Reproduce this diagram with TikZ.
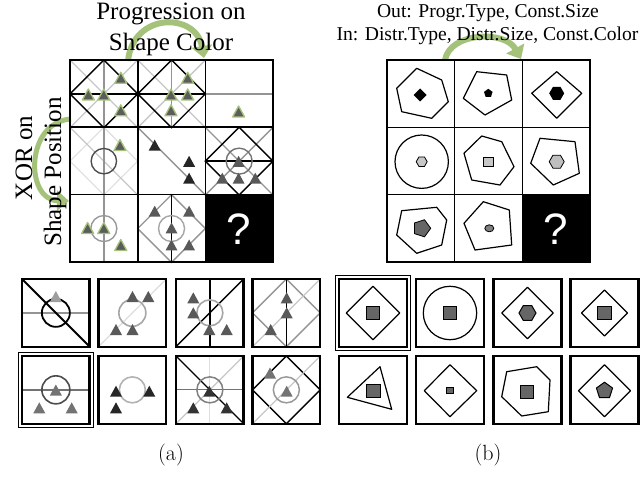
\documentclass[tikz,border=0pt]{standalone}
\usepackage{fontspec}
\newfontfamily\tms{Liberation Serif}
\newfontfamily\qsf{Liberation Sans}
\usetikzlibrary{arrows.meta,calc}
\definecolor{grn}{HTML}{A5C27A}
\definecolor{trif}{HTML}{5C5C5C}
\tikzset{
 bk/.style={draw=black,line width=1.4},
 gy/.style={draw=black!42,line width=1.4},
 lgy/.style={draw=black!22,line width=1.3},
 vlg/.style={draw=black!13,line width=1.2},
 trig/.style={fill=trif,draw=grn,line width=1.3,line join=round},
 trid/.style={fill=black!65},
 trik/.style={fill=black!85},
 tril/.style={fill=black!38},
 shp/.style={draw=black,line width=1.2,line join=round},
 garr/.style={draw=grn,line width=6,-{Triangle[length=12pt,width=20pt]}},
 ansbox/.style={draw=black,line width=2.2},
 ttl/.style={font=\tms\fontsize{25}{31}\selectfont,align=center,inner sep=0pt},
 ttr/.style={font=\tms\fontsize{19.6}{23}\selectfont,inner sep=0pt},
 qm/.style={text=white,font=\qsf\fontsize{44}{44}\selectfont,inner sep=0pt},
 captxt/.style={font=\fontsize{22}{26}\selectfont,inner sep=0pt}
}
\newcommand\Tri[3]{\path[#3] (#1-6,#2+5) -- (#1+6,#2+5) -- (#1,#2-6) -- cycle;}
\newcommand\RP[6]{\path[#6] plot[samples=#4,domain=#5:#5+360] ({#1+#3*cos(\x)},{#2+#3*sin(\x)}) -- cycle;}
\newcommand\Dg[1]{\draw[#1] (0,0)--(67.7,67.7);}
\newcommand\Da[1]{\draw[#1] (0,67.7)--(67.7,0);}
\newcommand\Vl[1]{\draw[#1] (33.85,0)--(33.85,67.7);}
\newcommand\Hl[1]{\draw[#1] (0,33.85)--(67.7,33.85);}
\newcommand\Dm[1]{\draw[#1] (33.85,0)--(67.7,33.85)--(33.85,67.7)--(0,33.85)--cycle;}
\newcommand\Ci[2]{\draw[#2] (33.85,33.85) circle[radius=#1];}
\newcommand\Sq[4]{\path[#4] (#1-#3,#2-#3) rectangle (#1+#3,#2+#3);}
\begin{document}
\begin{tikzpicture}[x=1pt,y=-1pt]
\useasboundingbox (0,0) rectangle (640,497);
\fill[white] (0,0) rectangle (640,497);

% green arrows
\draw[garr] (128,61) .. controls (133,12) and (196,12) .. (204,58);
\draw[garr,line width=5] (71,119) .. controls (25,122) and (25,200) .. (69,201);
\draw[garr] (445,60) .. controls (450,32) and (505,30) .. (521,59);

% titles
\node[ttl] (tl) at (171,29) {Progression on\\Shape Color};
\node[ttl,rotate=90] (xor) at (24,158) {XOR on};
\node[ttl,rotate=90] (shpos) at (55,172) {Shape Position};
\node[ttr] (tout) at (488,13) {Out: Progr.Type, Const.Size};
\node[ttr] (tin) at (487.5,36) {In: Distr.Type, Distr.Size, Const.Color};

% ===== left matrix =====
\begin{scope}[shift={(70,60)}]
\Dg{lgy}\Da{lgy}\Vl{gy}\Hl{bk}\Dm{bk}
\Tri{50.8}{18.3}{trig}\Tri{18.3}{35}{trig}\Tri{33.8}{35}{trig}\Tri{50.8}{50.8}{trig}
\end{scope}
\begin{scope}[shift={(137.7,60)}]
\Dg{lgy}\Da{lgy}\Vl{gy}\Hl{bk}\Dm{bk}
\Tri{50}{18.3}{trig}\Tri{33.3}{35}{trig}\Tri{50}{35}{trig}\Tri{33.3}{50.8}{trig}
\end{scope}
\begin{scope}[shift={(205.3,60)}]
\Hl{gy}
\Tri{33.3}{52}{trig}
\end{scope}
\begin{scope}[shift={(70,127.3)}]
\Dm{vlg}\Dg{lgy}\Vl{gy}\Ci{12.7}{draw=black!70,line width=1.4}
\Tri{50}{18.3}{trig}
\end{scope}
\begin{scope}[shift={(137.7,127.3)}]
\Dg{gy}
\Tri{17}{18.3}{trik}\Tri{51.4}{34.5}{trik}\Tri{51.4}{51.4}{trik}
\end{scope}
\begin{scope}[shift={(205.3,127.3)}]
\Dg{gy}\Da{gy}\Dm{bk}\Hl{bk}\Ci{13}{draw=black!55,line width=1.4}
\Tri{33.3}{34.5}{trid}\Tri{17}{51.4}{trid}\Tri{33.3}{51.4}{trid}\Tri{50}{51.4}{trid}
\end{scope}
\begin{scope}[shift={(70,194.7)}]
\Vl{gy}\Ci{13}{draw=black!40,line width=1.4}
\Tri{17.6}{33.8}{trig}\Tri{33.8}{33.8}{trig}\Tri{50.8}{50.8}{trig}
\end{scope}
\begin{scope}[shift={(137.7,194.7)}]
\Dm{gy}\Vl{bk}\Ci{13}{draw=black!35,line width=1.4}
\Tri{17}{17}{trid}\Tri{51.4}{17}{trid}\Tri{33.8}{33.8}{trid}\Tri{33.8}{50.8}{trid}\Tri{51.4}{50.8}{trid}
\end{scope}
\fill[black] (205.3,194.7) rectangle (273,262);
\node[qm] (q1) at (239.2,229) {?};
\draw[black,line width=1.6] (137.7,60)--(137.7,262) (205.3,60)--(205.3,262) (70,127.3)--(273,127.3) (70,194.7)--(273,194.7);
\draw[black,line width=2] (70,60) rectangle (273,262);

% ===== right matrix =====
\draw[shp] (416.7,68.3)--(441.7,80)--(448.3,101.7)--(431.7,118.3)--(401.7,111.7)--(396.7,88.3)--cycle;
\RP{420}{95}{6.5}{5}{0}{fill=black}
\draw[shp] (476.7,71.7)--(506.7,75)--(511.7,100)--(485,115)--(463.3,98.3)--cycle;
\RP{488.3}{93.3}{4.5}{6}{-90}{fill=black}
\draw[shp] (556.7,71.7)--(581.7,93.3)--(556.7,118.3)--(531.7,93.3)--cycle;
\RP{556.7}{93.3}{7.5}{7}{0}{fill=black}
\draw[shp] (421.7,161.7) circle[radius=26.7];
\RP{421.7}{161.7}{5.5}{7}{0}{fill=black!22,draw=black,line width=0.8}
\draw[shp] (481.7,136)--(501.7,141.7)--(514,166.7)--(500,185)--(471.7,180)--(464,153.3)--cycle;
\Sq{488.3}{161.7}{4.7}{fill=black!22,draw=black,line width=0.8}
\draw[shp] (540,138.3)--(575,141.7)--(579.3,173.3)--(553.3,185)--(530.7,163.3)--cycle;
\RP{556.7}{161.7}{7.5}{7}{0}{fill=black!25,draw=black,line width=0.8}
\draw[shp] (401.7,210.7)--(436.7,207.3)--(446.7,220)--(441.7,245)--(416.7,253.3)--(396.7,235)--cycle;
\RP{421.7}{228.3}{9}{6}{0}{fill=black!60,draw=black,line width=0.8}
\draw[shp] (483.3,201.7)--(509.3,210)--(511.7,245)--(475,250)--(464,223.3)--cycle;
\path[fill=black!50,draw=black,line width=0.8] (489.3,228.3) ellipse[x radius=4.5,y radius=3.5];
\fill[black] (522.3,194.7) rectangle (590,262);
\node[qm] (q2) at (556.2,229) {?};
\draw[black,line width=1.2] (454.7,60)--(454.7,262) (522.3,60)--(522.3,262) (387,127.3)--(590,127.3) (387,194.7)--(590,194.7);
\draw[black,line width=2] (387,60) rectangle (590,262);

% ===== left answers =====
\begin{scope}[shift={(22,279)}]
\Hl{gy}\Dg{draw=black,line width=2}\Ci{14}{draw=black,line width=1.8}
\Tri{33.85}{18}{tril}
\end{scope}
\begin{scope}[shift={(98.5,279)}]
\Da{vlg}\Ci{13.5}{draw=black!35,line width=1.6}
\Tri{34}{18}{trid}\Tri{49.8}{18}{trid}\Tri{17.5}{51}{trid}\Tri{34}{51}{trid}
\end{scope}
\begin{scope}[shift={(176,279)}]
\Vl{bk}\Da{bk}\Ci{13}{draw=black!35,line width=1.6}
\Tri{17.3}{19.3}{trid}\Tri{17.3}{34.3}{trid}\Tri{33.3}{51}{trid}\Tri{50.7}{51}{trid}
\end{scope}
\begin{scope}[shift={(252.5,279)}]
\Dm{gy}\Da{lgy}\Vl{bk}
\Tri{34.2}{19.3}{trid}\Tri{34.2}{34.3}{trid}\Tri{18.2}{51}{trid}
\end{scope}
\begin{scope}[shift={(22,356)}]
\Hl{draw=black!55,line width=1.3}\Ci{14}{draw=black!70,line width=1.6}
\Tri{33.85}{34.5}{fill=black!55}\Tri{17.3}{52.3}{fill=black!55}\Tri{49.7}{52.3}{fill=black!55}
\end{scope}
\begin{scope}[shift={(98.5,356)}]
\Ci{13}{draw=black!30,line width=1.6}
\Tri{17.5}{35.7}{trik}\Tri{50.8}{35.7}{trik}\Tri{17.5}{52.3}{trik}
\end{scope}
\begin{scope}[shift={(176,356)}]
\Vl{vlg}\Hl{draw=black!55,line width=1.2}\Da{lgy}\Dg{bk}\Ci{13}{draw=black!50,line width=1.5}
\Tri{33.3}{35.7}{fill=black!80}\Tri{17.3}{52.3}{fill=black!80}\Tri{50.7}{52.3}{fill=black!80}
\end{scope}
\begin{scope}[shift={(252.5,356)}]
\Dm{bk}\Da{lgy}\Ci{13}{draw=black!40,line width=1.5}
\Tri{34.2}{35.7}{fill=black!55}\Tri{17.5}{17.5}{fill=black!55}
\end{scope}
\foreach \ox in {22,98.5,176,252.5}{
 \draw[ansbox] (\ox,279) rectangle ++(67.5,67.7);
 \draw[ansbox] (\ox,356) rectangle ++(67.5,67.7);
}
\draw[black,line width=1] (18,352) rectangle (93.5,427.7);

% ===== right answers =====
\begin{scope}[shift={(339,279)}]
\draw[shp] (34,7.3)--(60.7,34)--(34,60.7)--(7.3,34)--cycle;
\Sq{34}{34}{6.7}{fill=black!60,draw=black,line width=1}
\end{scope}
\begin{scope}[shift={(416,279)}]
\draw[shp] (34,34) circle[radius=26.7];
\Sq{34}{34}{6.7}{fill=black!60,draw=black,line width=1}
\end{scope}
\begin{scope}[shift={(493.5,279)}]
\draw[shp] (34,8.2)--(59.8,34)--(34,59.8)--(8.2,34)--cycle;
\RP{34}{34}{8.5}{7}{0}{fill=black!60,draw=black,line width=1}
\end{scope}
\begin{scope}[shift={(570.5,279)}]
\draw[shp] (34,11)--(57,34)--(34,57)--(11,34)--cycle;
\Sq{34}{34}{6.7}{fill=black!60,draw=black,line width=1}
\end{scope}
\begin{scope}[shift={(339,356)}]
\draw[shp] (41,10.7)--(8.3,41.3)--(52.7,53.3)--cycle;
\Sq{34.3}{34.7}{6.7}{fill=black!60,draw=black,line width=1}
\end{scope}
\begin{scope}[shift={(416,356)}]
\draw[shp] (34,8.7)--(60.7,34.7)--(34,60.7)--(8.3,34.7)--cycle;
\Sq{34}{34.7}{3.2}{fill=black!60,draw=black,line width=1}
\end{scope}
\begin{scope}[shift={(493.5,356)}]
\draw[shp] (13.2,15.7)--(43.2,10.7)--(56.5,24)--(54.8,55.7)--(28.2,60)--(8.2,40.7)--cycle;
\Sq{33.2}{35.7}{6.7}{fill=black!60,draw=black,line width=1}
\end{scope}
\begin{scope}[shift={(570.5,356)}]
\draw[shp] (34,8.7)--(60,34.7)--(34,60.7)--(8,34.7)--cycle;
\RP{34}{34.7}{8.5}{6}{-90}{fill=black!60,draw=black,line width=1}
\end{scope}
\foreach \ox in {339,416,493.5,570.5}{
 \draw[ansbox] (\ox,279) rectangle ++(68,67.7);
 \draw[ansbox] (\ox,356) rectangle ++(68,67.7);
}
\draw[black,line width=1] (335.5,275.5) rectangle (410.5,350.2);

% captions
\node[captxt] (capa) at (171,455) {(a)};
\node[captxt] (capb) at (488,455) {(b)};
\end{tikzpicture}
\end{document}
